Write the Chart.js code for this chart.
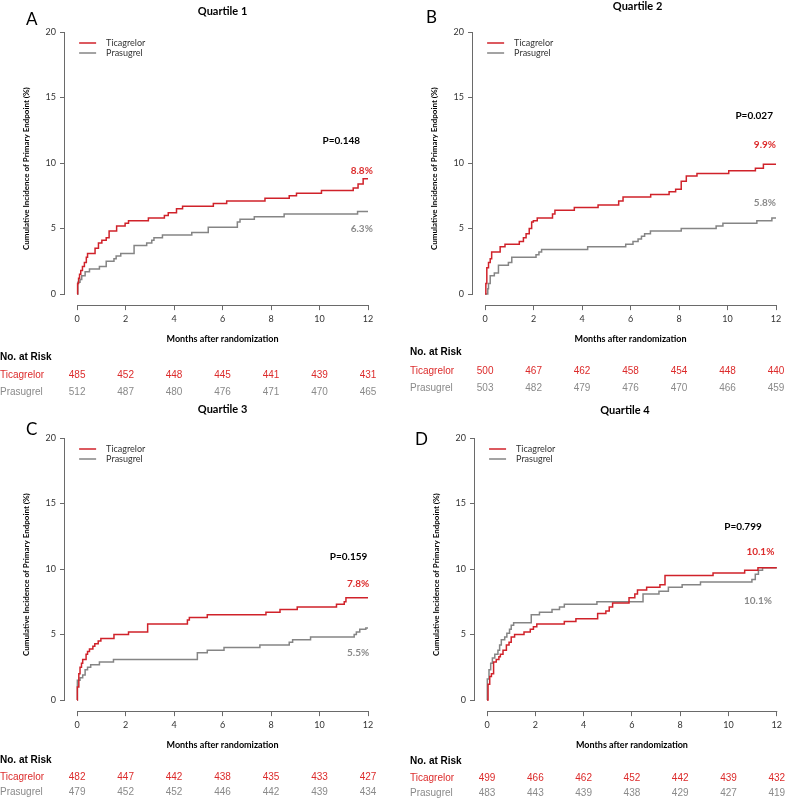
<!DOCTYPE html>
<html>
<head>
<meta charset="utf-8">
<script src="https://cdn.jsdelivr.net/npm/chart.js@4.4.1/dist/chart.umd.min.js"></script>
<style>
  body { margin: 0; background: #fff; }
  #wrap { position: relative; width: 786px; height: 800px; overflow: hidden; }
  canvas { position: absolute; }
</style>
</head>
<body>
<div id="wrap">
  <canvas id="q1" width="393" height="400" style="left:0;top:0"></canvas>
  <canvas id="q2" width="393" height="400" style="left:393px;top:0"></canvas>
  <canvas id="q3" width="393" height="400" style="left:0;top:400px"></canvas>
  <canvas id="q4" width="393" height="400" style="left:393px;top:400px"></canvas>
</div>
<script>
// axis ticks
const monthTicks = [0, 2, 4, 6, 8, 10, 12];
const pctTicks = [0, 5, 10, 15, 20];

// Quartile 1 (months, cumulative %)
const q1TicaMonths = [0, 0.02, 0.06, 0.1, 0.15, 0.22, 0.3, 0.38, 0.43, 0.74, 0.88, 1.02, 1.2, 1.32, 1.63, 1.98, 2.12, 2.94, 3.6, 3.76, 4.1, 4.35, 5.62, 6.17, 7.75, 8.75, 9.05, 10.08, 11.39, 11.59, 11.8, 12];
const q1TicaPct    = [0, 0.8, 1.2, 1.5, 1.8, 2.1, 2.4, 2.8, 3.1, 3.5, 3.9, 4.1, 4.3, 4.8, 5.2, 5.4, 5.6, 5.8, 6.0, 6.2, 6.5, 6.7, 6.9, 7.1, 7.3, 7.5, 7.7, 7.9, 8.1, 8.4, 8.8, 8.8];
const q1PrasMonths = [0, 0.03, 0.12, 0.19, 0.33, 0.51, 0.92, 1.2, 1.52, 1.61, 1.8, 2.35, 2.87, 3.08, 3.17, 3.52, 4.73, 5.41, 6.61, 6.72, 7.31, 8.54, 11.57, 12];
const q1PrasPct    = [0, 0.9, 1.1, 1.4, 1.7, 1.9, 2.1, 2.5, 2.7, 2.9, 3.1, 3.7, 3.9, 4.1, 4.3, 4.5, 4.7, 5.1, 5.5, 5.7, 5.9, 6.1, 6.3, 6.3];
const q1TicaRisk = [485, 452, 448, 445, 441, 439, 431];
const q1PrasRisk = [512, 487, 480, 476, 471, 470, 465];

// Quartile 2
const q2TicaMonths = [0, 0.03, 0.07, 0.14, 0.21, 0.27, 0.62, 0.82, 1.41, 1.58, 1.69, 1.82, 1.92, 1.99, 2.15, 2.78, 2.88, 3.68, 4.66, 5.51, 5.69, 6.83, 7.59, 7.86, 8.09, 8.3, 8.74, 10.05, 11.15, 11.48, 12];
const q2TicaPct    = [0, 0.8, 2.0, 2.4, 2.7, 3.2, 3.6, 3.8, 4.0, 4.3, 4.6, 5.0, 5.5, 5.6, 5.8, 6.1, 6.4, 6.6, 6.8, 7.1, 7.4, 7.6, 7.8, 8.0, 8.6, 9.0, 9.2, 9.4, 9.6, 9.9, 9.9];
const q2PrasMonths = [0, 0.11, 0.14, 0.21, 0.38, 0.55, 0.96, 1.1, 2.1, 2.22, 2.33, 4.23, 5.8, 6.1, 6.31, 6.45, 6.58, 6.82, 8.09, 9.53, 9.81, 11.21, 11.83, 12];
const q2PrasPct    = [0, 0.4, 0.8, 1.4, 1.6, 2.2, 2.4, 2.8, 3.0, 3.2, 3.4, 3.6, 3.8, 4.0, 4.2, 4.4, 4.6, 4.8, 5.0, 5.2, 5.4, 5.6, 5.8, 5.8];
const q2TicaRisk = [500, 467, 462, 458, 454, 448, 440];
const q2PrasRisk = [503, 482, 479, 476, 470, 466, 459];

// Quartile 3
const q3TicaMonths = [0, 0.01, 0.07, 0.12, 0.18, 0.23, 0.37, 0.43, 0.51, 0.65, 0.73, 0.87, 0.98, 1.52, 2.12, 2.91, 4.55, 4.63, 5.37, 7.79, 8.37, 9.08, 10.7, 11.02, 11.09, 12];
const q3TicaPct    = [0, 1.0, 2.0, 2.5, 2.8, 3.1, 3.5, 3.7, 3.9, 4.1, 4.3, 4.5, 4.7, 5.0, 5.2, 5.8, 6.1, 6.3, 6.5, 6.7, 6.9, 7.1, 7.3, 7.5, 7.8, 7.8];
const q3PrasMonths = [0, 0.01, 0.12, 0.23, 0.33, 0.43, 0.56, 0.92, 1.5, 4.96, 5.37, 6.06, 7.54, 8.75, 8.89, 9.63, 11.43, 11.52, 11.66, 11.91, 12];
const q3PrasPct    = [0, 1.5, 1.7, 1.9, 2.3, 2.5, 2.7, 2.9, 3.1, 3.6, 3.8, 4.0, 4.2, 4.4, 4.6, 4.8, 5.0, 5.2, 5.4, 5.5, 5.5];
const q3TicaRisk = [482, 447, 442, 438, 435, 433, 427];
const q3PrasRisk = [479, 452, 452, 446, 442, 439, 434];

// Quartile 4
const q4TicaMonths = [0, 0.04, 0.11, 0.18, 0.27, 0.38, 0.49, 0.55, 0.66, 0.8, 0.91, 1.0, 1.14, 1.53, 1.79, 1.92, 2.06, 3.2, 3.68, 4.58, 4.92, 5.06, 5.2, 5.88, 6.12, 6.23, 6.61, 7.16, 7.37, 9.36, 10.67, 11.22, 12];
const q4TicaPct    = [0, 1.2, 1.8, 2.0, 2.9, 3.1, 3.3, 3.5, 3.8, 4.2, 4.4, 4.8, 5.0, 5.2, 5.4, 5.6, 5.8, 6.0, 6.2, 6.6, 6.8, 7.1, 7.4, 7.8, 8.1, 8.4, 8.6, 8.8, 9.5, 9.7, 9.9, 10.1, 10.1];
const q4PrasMonths = [0, 0.01, 0.08, 0.15, 0.22, 0.32, 0.45, 0.52, 0.59, 0.73, 0.82, 0.93, 1.0, 1.1, 1.83, 2.17, 2.69, 3.0, 3.2, 4.55, 6.46, 7.12, 7.51, 8.08, 8.84, 10.97, 11.11, 11.24, 11.41, 12];
const q4PrasPct    = [0, 1.6, 2.3, 2.8, 3.2, 3.5, 3.8, 4.2, 4.6, 4.8, 5.1, 5.4, 5.7, 5.9, 6.5, 6.7, 6.9, 7.1, 7.3, 7.5, 8.1, 8.3, 8.6, 8.8, 9.0, 9.2, 9.6, 9.9, 10.1, 10.1];
const q4TicaRisk = [499, 466, 462, 452, 442, 439, 432];
const q4PrasRisk = [483, 443, 439, 438, 429, 427, 419];

const panelTitles = ['Quartile 1', 'Quartile 2', 'Quartile 3', 'Quartile 4'];
const panelLetters = ['A', 'B', 'C', 'D'];
const pValues = ['P=0.148', 'P=0.027', 'P=0.159', 'P=0.799'];
const ticaFinal = ['8.8%', '9.9%', '7.8%', '10.1%'];
const prasFinal = ['6.3%', '5.8%', '5.5%', '10.1%'];

const RED = '#d0222a';
const RED_TEXT = '#dc2b2b';
const GRAY = '#858585';
const GRAY_TEXT = '#8a8a8a';
const AXIS = '#6a6a6a';
const CAL = 'Lato, "Open Sans", sans-serif';
const ARIAL = '"Liberation Sans", Arial, sans-serif';

Chart.defaults.font.family = CAL;

// where things sit in each canvas (pixels / data coords for the labels)
const layout = [
  { left: 65, top: 32, titleY: 11, titleDx: 0, letterX: 26, letterY: 20, tableX: 0, rows: [52, 70, 87],
    pAt: [10.9, 11.7], ticaAt: [12.2, 9.4], prasAt: [12.2, 5.0] },
  { left: 80, top: 32, titleY: 6, titleDx: 7, letterX: 33, letterY: 18, tableX: 17, rows: [47, 66, 83],
    pAt: [11.1, 13.6], ticaAt: [12.0, 11.4], prasAt: [12.0, 7.0] },
  { left: 65, top: 38, titleY: 9, titleDx: 0, letterX: 26, letterY: 30, tableX: 0, rows: [49, 66, 81],
    pAt: [11.2, 10.9], ticaAt: [12.05, 8.9], prasAt: [12.05, 3.6] },
  { left: 82, top: 38, titleY: 10, titleDx: -7, letterX: 22, letterY: 40, tableX: 17, rows: [50, 67, 82],
    pAt: [10.6, 13.2], ticaAt: [11.9, 11.3], prasAt: [11.8, 7.6] }
];

const curves = [
  [q1TicaMonths, q1TicaPct, q1PrasMonths, q1PrasPct, q1TicaRisk, q1PrasRisk],
  [q2TicaMonths, q2TicaPct, q2PrasMonths, q2PrasPct, q2TicaRisk, q2PrasRisk],
  [q3TicaMonths, q3TicaPct, q3PrasMonths, q3PrasPct, q3TicaRisk, q3PrasRisk],
  [q4TicaMonths, q4TicaPct, q4PrasMonths, q4PrasPct, q4TicaRisk, q4PrasRisk]
];

function zip(xs, ys) {
  return xs.map((x, i) => ({ x: x, y: ys[i] }));
}

// Draws R-style axis lines, titles, legend, labels and the at-risk table
function decor(i) {
  const L = layout[i];
  const ticaRisk = curves[i][4], prasRisk = curves[i][5];
  return {
    id: 'decor' + i,
    afterDraw(chart) {
      const ctx = chart.ctx;
      const xs = chart.scales.x, ys = chart.scales.y;
      const x0 = xs.getPixelForValue(0), x12 = xs.getPixelForValue(12);
      const y0 = ys.getPixelForValue(0), y20 = ys.getPixelForValue(20);
      const base = chart.chartArea.bottom;
      const left = chart.chartArea.left;
      ctx.save();

      ctx.strokeStyle = AXIS;
      ctx.lineWidth = 1;
      ctx.beginPath();
      ctx.moveTo(Math.round(left) - 0.5, y20);
      ctx.lineTo(Math.round(left) - 0.5, y0 + 0.5);
      ctx.moveTo(x0, Math.round(base) + 0.5);
      ctx.lineTo(x12 + 0.5, Math.round(base) + 0.5);
      ctx.stroke();

      // panel title and letter
      ctx.fillStyle = '#000';
      ctx.textBaseline = 'middle';
      ctx.textAlign = 'center';
      ctx.font = 'bold 11px ' + CAL;
      ctx.fillText(panelTitles[i], xs.getPixelForValue(6) + L.titleDx, L.titleY);
      ctx.textAlign = 'left';
      ctx.font = '17px ' + CAL;
      ctx.fillText(panelLetters[i], L.letterX, L.letterY);

      // legend
      ctx.lineWidth = 1.5;
      [[RED, 'Ticagrelor', 11], [GRAY, 'Prasugrel', 21]].forEach(([c, t, dy]) => {
        ctx.strokeStyle = c;
        ctx.beginPath();
        ctx.moveTo(x0 + 2, y20 + dy);
        ctx.lineTo(x0 + 19, y20 + dy);
        ctx.stroke();
        ctx.fillStyle = '#333';
        ctx.font = '9px ' + CAL;
        ctx.fillText(t, x0 + 29, y20 + dy);
      });

      // p value and final percentages
      ctx.font = 'bold 10px ' + CAL;
      ctx.textAlign = 'center';
      ctx.fillStyle = '#000';
      ctx.fillText(pValues[i], xs.getPixelForValue(L.pAt[0]), ys.getPixelForValue(L.pAt[1]));
      ctx.textAlign = 'right';
      ctx.fillStyle = RED_TEXT;
      ctx.fillText(ticaFinal[i], xs.getPixelForValue(L.ticaAt[0]), ys.getPixelForValue(L.ticaAt[1]));
      ctx.fillStyle = GRAY_TEXT;
      ctx.fillText(prasFinal[i], xs.getPixelForValue(L.prasAt[0]), ys.getPixelForValue(L.prasAt[1]));

      // x axis title
      ctx.textAlign = 'center';
      ctx.fillStyle = '#000';
      ctx.font = 'bold 9px ' + CAL;
      ctx.fillText('Months after randomization', (x0 + x12) / 2, base + 34);

      // numbers at risk
      ctx.textAlign = 'left';
      ctx.font = 'bold 10px ' + ARIAL;
      ctx.fillText('No. at Risk', L.tableX, base + L.rows[0]);
      ctx.font = '10px ' + ARIAL;
      ctx.fillStyle = RED_TEXT;
      ctx.fillText('Ticagrelor', L.tableX, base + L.rows[1]);
      ctx.fillStyle = GRAY_TEXT;
      ctx.fillText('Prasugrel', L.tableX, base + L.rows[2]);
      ctx.textAlign = 'center';
      monthTicks.forEach((m, k) => {
        const px = xs.getPixelForValue(m);
        ctx.fillStyle = RED_TEXT;
        ctx.fillText(String(ticaRisk[k]), px, base + L.rows[1]);
        ctx.fillStyle = GRAY_TEXT;
        ctx.fillText(String(prasRisk[k]), px, base + L.rows[2]);
      });
      ctx.restore();
    }
  };
}

function makePanel(i) {
  const L = layout[i];
  const c = curves[i];
  const plotH = 20.85 * 13.1;
  new Chart(document.getElementById('q' + (i + 1)), {
    type: 'line',
    data: {
      datasets: [
        { label: 'Ticagrelor', data: zip(c[0], c[1]), borderColor: RED, borderWidth: 1.5,
          stepped: true, pointRadius: 0, fill: false, clip: false },
        { label: 'Prasugrel', data: zip(c[2], c[3]), borderColor: GRAY, borderWidth: 1.5,
          stepped: true, pointRadius: 0, fill: false, clip: false }
      ]
    },
    options: {
      responsive: false,
      animation: false,
      layout: { padding: { left: L.left - 45, top: L.top, right: 393 - L.left - 303, bottom: 0 } },
      plugins: { legend: { display: false }, tooltip: { enabled: false } },
      scales: {
        x: {
          type: 'linear', min: -0.5, max: 12,
          afterBuildTicks: s => { s.ticks = monthTicks.map(v => ({ value: v })); },
          afterFit: s => { s.height = 400 - L.top - plotH; },
          border: { display: false },
          grid: { drawOnChartArea: false, tickLength: 5, color: AXIS },
          ticks: { autoSkip: false, maxRotation: 0, padding: 4, color: '#333', font: { size: 9 } }
        },
        y: {
          type: 'linear', min: -0.85, max: 20,
          afterBuildTicks: s => { s.ticks = pctTicks.map(v => ({ value: v })); },
          afterFit: s => { s.width = 45; },
          border: { display: false },
          grid: { drawOnChartArea: false, tickLength: 5, color: AXIS },
          ticks: { padding: 4, color: '#333', font: { size: 9 } },
          title: { display: true, text: 'Cumulative Incidence of Primary Endpoint (%)',
                   color: '#000', font: { size: 8, weight: 'bold' }, padding: { top: 2, bottom: 0 } }
        }
      }
    },
    plugins: [decor(i)]
  });
}

for (let i = 0; i < 4; i++) makePanel(i);
</script>
</body>
</html>
